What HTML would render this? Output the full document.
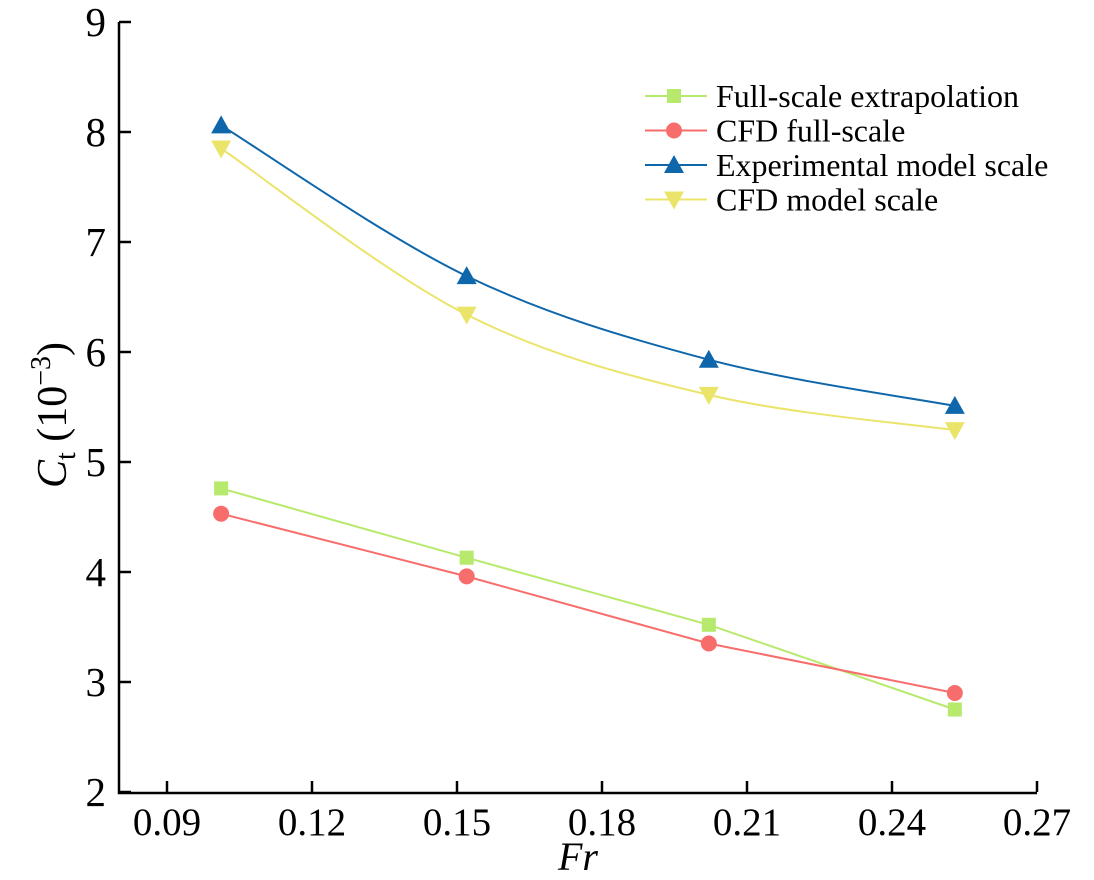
<!DOCTYPE html>
<html><head><meta charset="utf-8"><style>
html,body{margin:0;padding:0;background:#fff;}
svg{display:block;font-family:"Liberation Serif",serif;}
</style></head><body>
<svg id="chart" width="1094" height="880" viewBox="0 0 1094 880" xmlns="http://www.w3.org/2000/svg"></svg>
<script>
const frValues=[0.1012,0.152,0.2021,0.253];
const fullScaleExtrap=[4.76,4.13,3.52,2.75];
const cfdFullScale=[4.53,3.96,3.35,2.90];
const expModelScale=[8.06,6.69,5.93,5.51];
const cfdModelScale=[7.85,6.34,5.61,5.29];
const xTicks=[0.09,0.12,0.15,0.18,0.21,0.24,0.27];
const yTicks=[2,3,4,5,6,7,8,9];
const NS="http://www.w3.org/2000/svg";
const svg=document.getElementById('chart');
const X0=167,X1=1037,Y0=792,Y1=22;
function sx(v){return X0+(v-0.09)/(0.27-0.09)*(X1-X0);}
function sy(v){return Y0-(v-2)/(9-2)*(Y0-Y1);}
function mk(t,a,p){const e=document.createElementNS(NS,t);for(const k in a)e.setAttribute(k,a[k]);(p||svg).appendChild(e);return e;}
let e;
e=mk('path',{d:`M119,${Y1} V${Y0+1} H${X1}`,fill:'none',stroke:'#000','stroke-width':2.5});


xTicks.forEach(t=>{
 const x=sx(t);
 e=mk('line',{x1:x,x2:x,y1:Y0,y2:Y0-11,stroke:'#000','stroke-width':2.5});
 
 
 e=mk('text',{x:x,y:Y0+43,'text-anchor':'middle','font-size':39});
 e.textContent=t.toFixed(2);
 
 
});
yTicks.forEach(t=>{
 const y=sy(t);
 e=mk('line',{x1:119,x2:131,y1:y,y2:y,stroke:'#000','stroke-width':2.5});
 
 
 e=mk('text',{x:106,y:y+14,'text-anchor':'end','font-size':41});
 e.textContent=t;
 
 
});
e=mk('text',{x:578,y:870,'text-anchor':'middle','font-size':40,'font-style':'italic'});
e.textContent='Fr';


e=mk('text',{transform:'translate(66,415) rotate(-90)','text-anchor':'middle','font-size':42});
e.innerHTML='<tspan font-style="italic">C</tspan><tspan font-size="28" dy="9">t</tspan><tspan dy="-9"> (10</tspan><tspan font-size="28" dy="-16">−3</tspan><tspan dy="16">)</tspan>';


function linePath(pts){return pts.map((p,i)=>(i?'L':'M')+p[0]+','+p[1]).join(' ');}
function smoothPath(p){let d='M'+p[0][0]+','+p[0][1];for(let i=0;i<p.length-1;i++){const a=p[i-1]||p[i],b=p[i],c=p[i+1],f=p[i+2]||c;
d+=` C${b[0]+(c[0]-a[0])/6},${b[1]+(c[1]-a[1])/6} ${c[0]-(f[0]-b[0])/6},${c[1]-(f[1]-b[1])/6} ${c[0]},${c[1]}`;}return d;}
function marker(shape,x,y,color,g){
 if(shape==='sq')return mk('rect',{x:x-7,y:y-7,width:14,height:14,fill:color},g);
 if(shape==='ci')return mk('circle',{cx:x,cy:y,r:8,fill:color},g);
 if(shape==='up')return mk('polygon',{points:`${x},${y-10} ${x-10},${y+8} ${x+10},${y+8}`,fill:color},g);
 return mk('polygon',{points:`${x},${y+10} ${x-10},${y-8} ${x+10},${y-8}`,fill:color},g);
}
const series=[
 {name:'Full-scale extrapolation',vals:fullScaleExtrap,color:'#b7ea6c',shape:'sq',smooth:false,id:'full-scale-extrapolation'},
 {name:'CFD full-scale',vals:cfdFullScale,color:'#f76d6b',shape:'ci',smooth:false,id:'cfd-full-scale'},
 {name:'Experimental model scale',vals:expModelScale,color:'#0f67ab',shape:'up',smooth:true,id:'experimental-model-scale'},
 {name:'CFD model scale',vals:cfdModelScale,color:'#ebe46b',shape:'dn',smooth:true,id:'cfd-model-scale'}
];
series.forEach((s,si)=>{
 const g=mk('g',{});
 
 
 const pts=frValues.map((f,i)=>[sx(f),sy(s.vals[i])]);
 e=mk('path',{d:s.smooth?smoothPath(pts):linePath(pts),fill:'none',stroke:s.color,'stroke-width':2},g);
 
 
 pts.forEach(p=>{e=marker(s.shape,p[0],p[1],s.color,g);
 
 });
 const ly=96+si*34.5;
 const lg=mk('g',{});
 
 
 mk('line',{x1:645,x2:707,y1:ly,y2:ly,stroke:s.color,'stroke-width':2},lg);
 marker(s.shape,674,ly,s.color,lg);
 const t=mk('text',{x:716,y:ly+11,'font-size':32},lg);
 t.textContent=s.name;
});
</script>
</body></html>
